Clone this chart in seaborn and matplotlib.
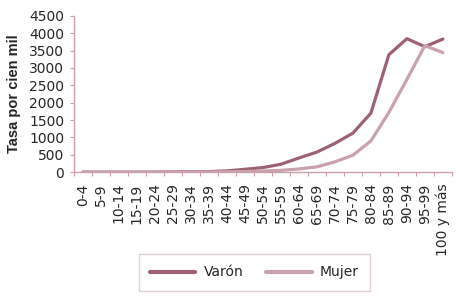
import matplotlib
matplotlib.use("Agg")
import matplotlib.pyplot as plt
import seaborn as sns
import pandas as pd
import numpy as np
from matplotlib.lines import Line2D

categories = ["0-4", "5-9", "10-14", "15-19", "20-24", "25-29", "30-34", "35-39",
              "40-44", "45-49", "50-54", "55-59", "60-64", "65-69", "70-74", "75-79",
              "80-84", "85-89", "90-94", "95-99", "100 y más"]
varon = [5, 2, 2, 3, 5, 10, 15, 20, 40, 85, 135, 230, 410, 580, 830, 1125, 1700,
         3380, 3840, 3610, 3830]
mujer = [4, 2, 2, 2, 3, 5, 8, 10, 15, 20, 35, 55, 95, 155, 300, 490, 900,
         1720, 2670, 3640, 3440]

sns.set_theme(style="white")
plt.rcParams['font.family'] = ['DejaVu Sans']

df = pd.DataFrame({
    "edad": categories * 2,
    "tasa": varon + mujer,
    "sexo": ["Varón"] * len(categories) + ["Mujer"] * len(categories),
})

c_v = "#9C6272"
c_m = "#C9A2AC"
axis_col = "#C9A0AB"
fig = plt.figure(figsize=(4.59, 2.97), dpi=100)
ax = fig.add_axes([0.161, 0.420, 0.8235, 0.527])
sns.lineplot(data=df, x="edad", y="tasa", hue="sexo", sort=False,
             palette={"Varón": c_v, "Mujer": c_m},
             linewidth=2.3, ax=ax, legend=False)

n = len(categories)
ax.set_xlim(-0.5, n - 0.5)
ax.set_ylim(0, 4500)
ax.set_yticks(np.arange(0, 4501, 500))
ax.set_xticks(range(n))
ax.set_xticklabels(categories, rotation=90, fontsize=10)
ax.set_xticks(np.arange(-0.5, n, 1), minor=True)
ax.tick_params(axis="x", which="major", length=0, pad=8)
ax.tick_params(axis="x", which="minor", length=3, color=axis_col, width=0.8, direction="out", bottom=True)
ax.tick_params(axis="y", length=3, color=axis_col, width=0.8, direction="out", left=True, labelsize=10, pad=4)
for s in ["top", "right"]:
    ax.spines[s].set_visible(False)
for s in ["left", "bottom"]:
    ax.spines[s].set_color(axis_col)
    ax.spines[s].set_linewidth(1.0)
ax.set_xlabel("")
ax.set_ylabel("Tasa por cien mil", fontsize=10.5, fontweight="bold", labelpad=6,
              family=['Liberation Sans', 'DejaVu Sans'])

handles = [Line2D([], [], color=c_v, lw=3), Line2D([], [], color=c_m, lw=3)]
leg = fig.legend(handles, ["Varón", "Mujer"], loc="center", ncol=2,
                 bbox_to_anchor=(0.554, 0.0825), fontsize=10, frameon=True,
                 fancybox=False, edgecolor="#DCC5CB", handlelength=3.3,
                 columnspacing=1.6, borderpad=0.8, handletextpad=0.6)
leg.get_frame().set_linewidth(1.0)

fig.savefig("out.png", dpi=100)
